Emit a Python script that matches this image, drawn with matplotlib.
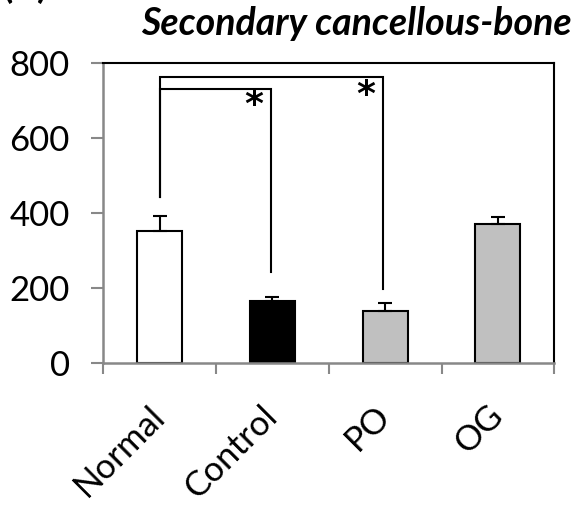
import numpy as np
import matplotlib.pyplot as plt

plt.rcParams['font.family'] = ['Lato', 'DejaVu Sans']

groups = ['Normal', 'Control', 'PO', 'OG']
means = [352, 167, 140, 370]
sems = [41, 11, 21, 19]
colors = ['white', 'black', '#c0c0c0', '#c0c0c0']

# significance brackets: (left group, right group, line height, drop-to value at right end)
left_drop = 444
brackets = [(0, 0.985, 729, 243), (0, 1.98, 761, 198)]
stars = [(0.83, 687), (1.83, 715)]

fig = plt.figure(figsize=(5.76, 5.05), dpi=100)
ax = fig.add_axes([0.1793, 0.2802, 0.783, 0.5956])

x = np.arange(len(groups))
ax.bar(x, means, width=0.4, color=colors, edgecolor='black', linewidth=1.5, zorder=2)
ax.errorbar(x, means, yerr=[np.zeros(len(sems)), sems], fmt='none', ecolor='black',
            elinewidth=1.5, capsize=5, capthick=1.5, zorder=3)

for x0, x1, h, drop in brackets:
    ax.plot([x0, x0, x1, x1], [left_drop, h, h, drop], color='black', lw=1.5,
            solid_joinstyle='miter', zorder=3)
for sx, sy in stars:
    ax.text(sx, sy, '*', ha='center', va='center', fontsize=26, fontweight='bold',
            family='DejaVu Sans')

ax.set_xlim(-0.5, 3.5)
ax.set_ylim(0, 800)
ax.set_yticks([0, 200, 400, 600, 800])
ax.tick_params(axis='y', labelsize=25, length=9, color='#888888', width=1.5, direction='out', pad=15)

ax.set_xticks(np.arange(-0.5, 4, 1.0))
ax.set_xticklabels([])
ax.tick_params(axis='x', which='major', length=8, color='#888888', width=1.5, direction='out')
ax.set_xticks(x, minor=True)
ax.set_xticklabels(groups, minor=True, rotation=45, ha='right', va='center',
                   rotation_mode='anchor', fontsize=25)
ax.tick_params(axis='x', which='minor', length=0, pad=34)

for side in ['left', 'bottom']:
    ax.spines[side].set_color('#888888')
    ax.spines[side].set_linewidth(1.8)
for side in ['top', 'right']:
    ax.spines[side].set_color('black')
    ax.spines[side].set_linewidth(1.5)

fig.text(0.618, 0.93, 'Secondary cancellous-bone', ha='center', va='baseline',
         fontsize=27, fontweight='bold', style='italic')
fig.text(0.005, 1.004, '(B)', ha='left', va='baseline', fontsize=27, fontweight='bold')

fig.savefig('out.png', dpi=100)
